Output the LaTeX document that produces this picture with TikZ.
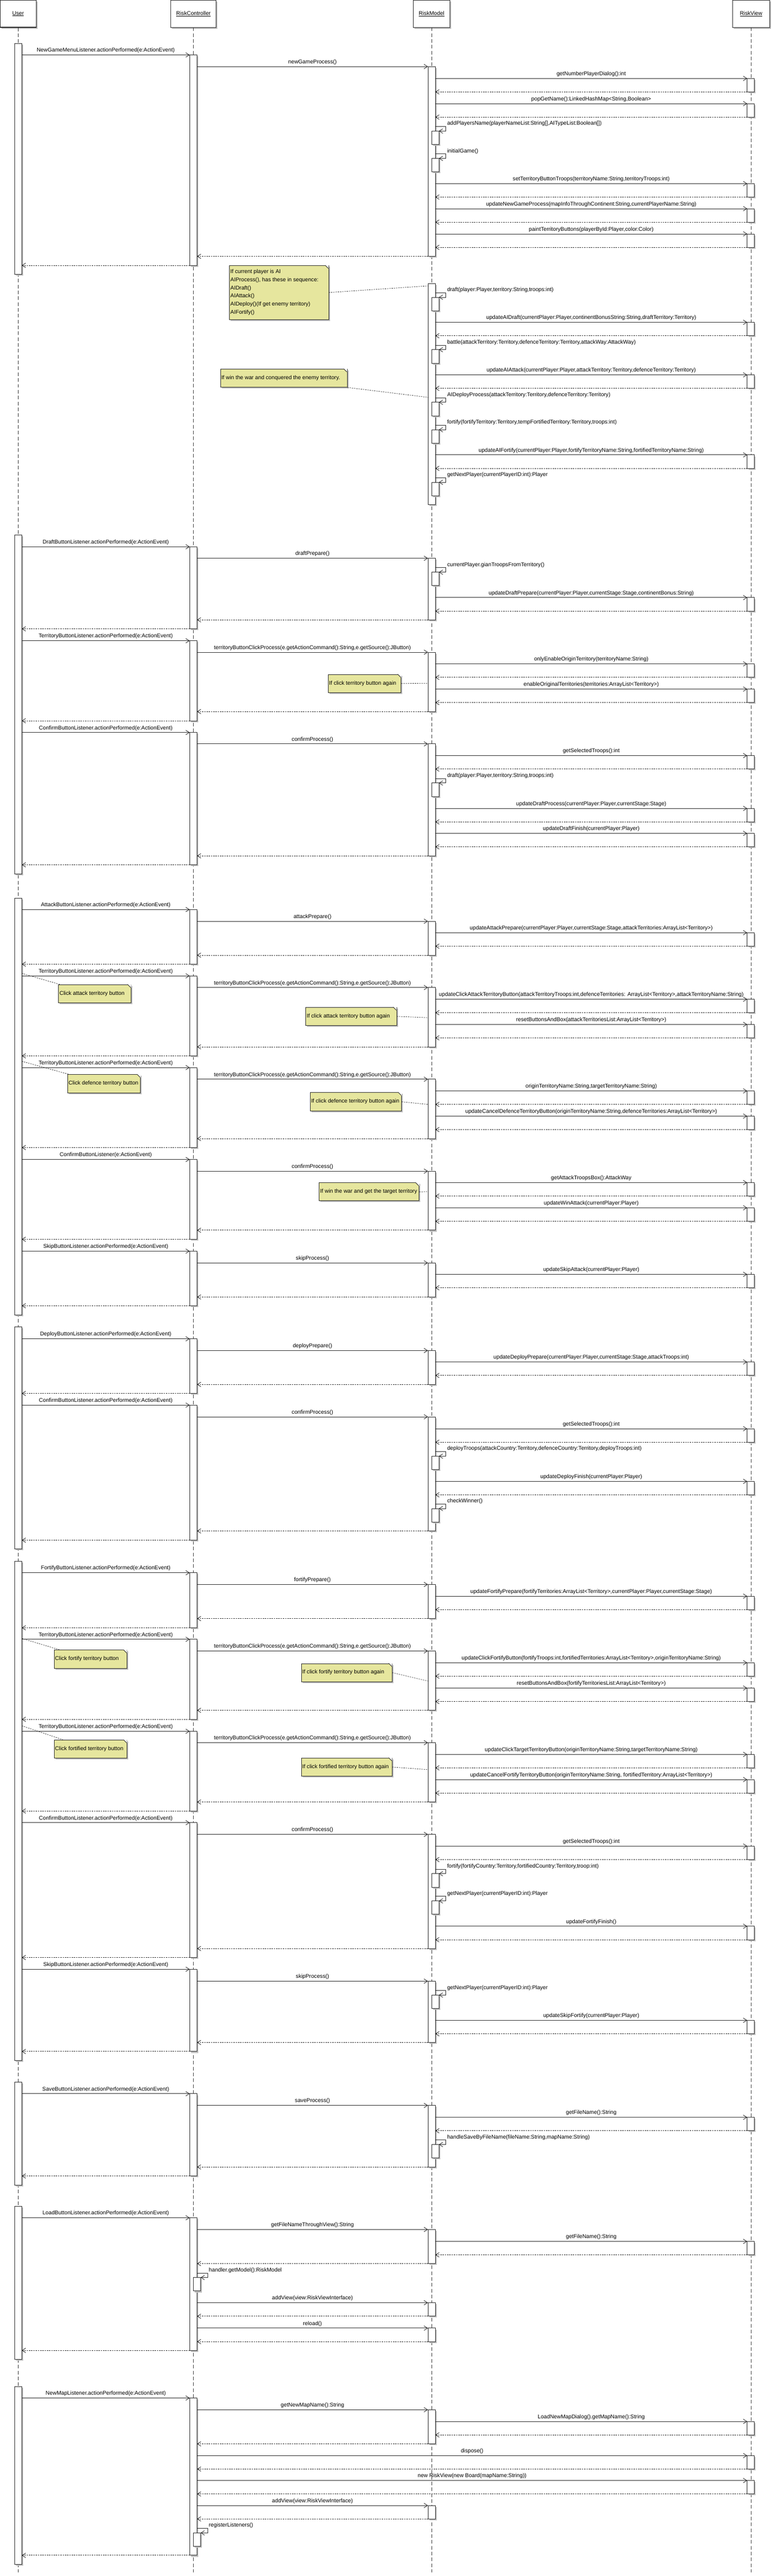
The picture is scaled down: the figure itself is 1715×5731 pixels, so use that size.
\documentclass[tikz,border=0pt]{standalone}
\usepackage{fontspec}
\setmainfont{Liberation Sans}
\usetikzlibrary{arrows.meta,shadows,calc}
\definecolor{memoyellow}{RGB}{230,230,158}
\newcounter{msgno}
\newcommand{\XU}{32.3}
\newcommand{\XC}{422.3}
\newcommand{\XM}{952.5}
\newcommand{\XV}{1663}

\tikzset{
  bar/.style={draw=black!85, fill=white, line width=1pt},
  barshade/.style={fill=black!25},
  call/.style={draw=black!85, line width=1pt, -{Straight Barb[length=8pt,width=10pt]}},
  reply/.style={call, dash pattern=on 3pt off 2pt},
  lbl/.style={inner sep=0pt, anchor=base},
  lifeline/.style={draw=black!80, line width=0.8pt, dash pattern=on 8pt off 5pt},
  head/.style={draw=black!85, fill=white, line width=1pt, minimum height=60.7pt, inner sep=0pt,
    drop shadow={shadow xshift=3pt, shadow yshift=-3pt, fill=black!25, opacity=1}},
  memo/.style={draw=black!85, fill=memoyellow, line width=1pt, inner sep=0pt, anchor=north west,
    drop shadow={shadow xshift=3pt, shadow yshift=-3pt, fill=black!25, opacity=1}},
  memotext/.style={anchor=west, inner sep=0pt, align=left, font=\fontsize{12.2}{18}\selectfont},
  memolink/.style={draw=black!85, line width=0.8pt, dash pattern=on 3pt off 2pt},
}

% activation bar: left x, top y, bottom y
\newcommand{\actbox}[3]{%
  \fill[barshade] (#1+3,#2+3) rectangle (#1+19,#3+3);
  \draw[bar] (#1,#2) rectangle (#1+16,#3);}
% message: from x, to x, y, label
\newcommand{\callmsg}[4]{%
  \draw[call] (#1,#3) -- (#2,#3);
  \stepcounter{msgno}%
  \node[lbl] (m\themsgno) at ({(#1+#2)/2},#3-6.6) {#4};}
\newcommand{\retmsg}[3]{\draw[reply] (#1,#3) -- (#2,#3);}
\newcommand{\ucall}[2]{\callmsg{\XU+16}{\XC}{#1}{#2}}
\newcommand{\uret}[1]{\retmsg{\XC}{\XU+16}{#1}}
\newcommand{\mcall}[2]{\callmsg{\XC+16}{\XM}{#1}{#2}}
\newcommand{\mret}[1]{\retmsg{\XM}{\XC+16}{#1}}
\newcommand{\vcall}[2]{\actbox{\XV}{#1}{#1+30}\callmsg{\XM+16}{\XV}{#1}{#2}\retmsg{\XV}{\XM+16}{#1+30}}
\newcommand{\cvcall}[2]{\actbox{\XV}{#1}{#1+30}\callmsg{\XC+16}{\XV}{#1}{#2}\retmsg{\XV}{\XC+16}{#1+30}}
% self call: bar left x, y, label
\newcommand{\selfcall}[3]{%
  \actbox{#1+8}{#2+10}{#2+40}
  \draw[call] (#1+16,#2) -- (#1+40,#2) -- (#1+40,#2+10) -- (#1+24,#2+10);
  \stepcounter{msgno}%
  \node[lbl, anchor=base west] (m\themsgno) at (#1+42.5,#2-3) {#3};}
% note: name, x1, y1, x2, y2, text
\newcommand{\memo}[6]{%
  \node[memo, minimum width={#4pt-#2pt}, minimum height={#5pt-#3pt}] (#1) at (#2,#3) {};
  \fill[white] (#4-7.5,#3-0.8) -- (#4+0.8,#3-0.8) -- (#4+0.8,#3+7.5) -- cycle;
  \draw[line width=1pt, draw=black!85] (#4-7,#3) -- (#4,#3+7);
  \node[memotext] (#1t) at (#2+2.4,{(#3+#5)/2}) {#6};}

\begin{document}
\begin{tikzpicture}[x=1pt, y=-1pt, every node/.style={font=\fontsize{12.2}{14.6}\selectfont}]
  \useasboundingbox (0,0) rectangle (1715,5731);

  % participants
  \node[head, minimum width=80.7pt, line width=1.6pt] (user) at (40.35,30.35) {\underline{User}};
  \node[head, minimum width=100.4pt] (ctrl) at (430.5,30.35) {\underline{RiskController}};
  \node[head, minimum width=81pt] (model) at (960.5,30.35) {\underline{RiskModel}};
  \node[head, minimum width=83pt] (view) at (1671.5,30.35) {\underline{RiskView}};

  \coordinate (bottom) at (0,5723);
  \foreach \p in {user,ctrl,model,view}
    \draw[lifeline] (\p) -- (\p |- bottom);

  % new game
  \actbox{\XU}{96.3}{610}
  \actbox{\XC}{122.3}{590.3}
  \ucall{122.3}{NewGameMenuListener.actionPerformed(e:ActionEvent)}
  \actbox{\XM}{148}{570.2}
  \mcall{148}{newGameProcess()}
  \vcall{174.4}{getNumberPlayerDialog():int}
  \vcall{230.5}{popGetName():LinkedHashMap<String,Boolean>}
  \selfcall{\XM}{281.5}{addPlayersName(playerNameList:String[],AITypeList:Boolean[])}
  \selfcall{\XM}{342.4}{initialGame()}
  \vcall{408.4}{setTerritoryButtonTroops(territoryName:String,territoryTroops:int)}
  \vcall{464.2}{updateNewGameProcess(mapInfoThroughContinent:String,currentPlayerName:String)}
  \vcall{520.3}{paintTerritoryButtons(playerById:Player,color:Color)}
  \mret{570.2}
  \uret{590.3}

  % AI turn
  \actbox{\XM}{630.7}{1123}
  \selfcall{\XM}{651.3}{draft(player:Player,territory:String,troops:int)}
  \vcall{717}{updateAIDraft(currentPlayer:Player,continentBonusString:String,draftTerritory:Territory)}
  \selfcall{\XM}{768}{battle(attackTerritory:Territory,defenceTerritory:Territory,attackWay:AttackWay)}
  \vcall{834}{updateAIAttack(currentPlayer:Player,attackTerritory:Territory,defenceTerritory:Territory)}
  \selfcall{\XM}{885}{AIDeployProcess(attackTerritory:Territory,defenceTerritory:Territory)}
  \selfcall{\XM}{946}{fortify(fortifyTerritory:Territory,tempFortifiedTerritory:Territory,troops:int)}
  \vcall{1012}{updateAIFortify(currentPlayer:Player,fortifyTerritoryName:String,fortifiedTerritoryName:String)}
  \selfcall{\XM}{1063}{getNextPlayer(currentPlayerID:int):Player}
  \memo{n1}{510.3}{590.3}{730.7}{710.3}{If current player is AI\\AIProcess(), has these in sequence:\\AIDraft()\\AIAttack()\\AIDeploy()(If get enemy territory)\\AIFortify()}
  \memo{n2}{490}{820.5}{772}{861}{If win the war and conquered the enemy territory.}

  % draft
  \actbox{\XU}{1190}{1944}
  \actbox{\XC}{1216.4}{1399}
  \ucall{1216.4}{DraftButtonListener.actionPerformed(e:ActionEvent)}
  \actbox{\XM}{1242}{1379}
  \mcall{1242}{draftPrepare()}
  \selfcall{\XM}{1263}{currentPlayer.gianTroopsFromTerritory()}
  \vcall{1329.5}{updateDraftPrepare(currentPlayer:Player,currentStage:Stage,continentBonus:String)}
  \mret{1379}
  \uret{1399}
  \actbox{\XC}{1425.5}{1603.5}
  \ucall{1425.5}{TerritoryButtonListener.actionPerformed(e:ActionEvent)}
  \actbox{\XM}{1451}{1583}
  \mcall{1451}{territoryButtonClickProcess(e.getActionCommand():String,e.getSource():JButton)}
  \vcall{1477}{onlyEnableOriginTerritory(territoryName:String)}
  \vcall{1533}{enableOriginalTerritories(territories:ArrayList<Territory>)}
  \mret{1583}
  \uret{1603.5}
  \memo{n3}{730}{1500}{892}{1540.6}{If click territory button again}
  \actbox{\XC}{1629.6}{1924}
  \ucall{1629.6}{ConfirmButtonListener.actionPerformed(e:ActionEvent)}
  \actbox{\XM}{1655}{1904}
  \mcall{1655}{confirmProcess()}
  \vcall{1681}{getSelectedTroops():int}
  \selfcall{\XM}{1732}{draft(player:Player,territory:String,troops:int)}
  \vcall{1798.5}{updateDraftProcess(currentPlayer:Player,currentStage:Stage)}
  \vcall{1854}{updateDraftFinish(currentPlayer:Player)}
  \mret{1904}
  \uret{1924}

  % attack
  \actbox{\XU}{1998}{2925}
  \actbox{\XC}{2023.5}{2145}
  \ucall{2023.5}{AttackButtonListener.actionPerformed(e:ActionEvent)}
  \actbox{\XM}{2049.5}{2125}
  \mcall{2049.5}{attackPrepare()}
  \vcall{2075}{updateAttackPrepare(currentPlayer:Player,currentStage:Stage,attackTerritories:ArrayList<Territory>)}
  \mret{2125}
  \uret{2145}
  \actbox{\XC}{2171}{2349}
  \ucall{2171}{TerritoryButtonListener.actionPerformed(e:ActionEvent)}
  \actbox{\XM}{2197}{2329}
  \mcall{2197}{territoryButtonClickProcess(e.getActionCommand():String,e.getSource():JButton)}
  \vcall{2223}{updateClickAttackTerritoryButton(attackTerritoryTroops:int,defenceTerritories: ArrayList<Territory>,attackTerritoryName:String)}
  \vcall{2279}{resetButtonsAndBox(attackTerritoriesList:ArrayList<Territory>)}
  \mret{2329}
  \uret{2349}
  \memo{n4}{130}{2190}{291}{2230.6}{Click attack territory button}
  \memo{n5}{680}{2240.5}{882}{2281}{If click attack territory button again}
  \actbox{\XC}{2375}{2553}
  \ucall{2375}{TerritoryButtonListener.actionPerformed(e:ActionEvent)}
  \actbox{\XM}{2401}{2533}
  \mcall{2401}{territoryButtonClickProcess(e.getActionCommand():String,e.getSource():JButton)}
  \vcall{2427}{originTerritoryName:String,targetTerritoryName:String)}
  \vcall{2483}{updateCancelDefenceTerritoryButton(originTerritoryName:String,defenceTerritories:ArrayList<Territory>)}
  \mret{2533}
  \uret{2553}
  \memo{n6}{150}{2390}{312}{2431}{Click defence territory button}
  \memo{n7}{690}{2430}{893}{2471.5}{If click defence territory button again}
  \actbox{\XC}{2579.5}{2757}
  \ucall{2579.5}{ConfirmButtonListener(e:ActionEvent)}
  \actbox{\XM}{2605.5}{2737}
  \mcall{2605.5}{confirmProcess()}
  \vcall{2631}{getAttackTroopsBox():AttackWay}
  \vcall{2687}{updateWinAttack(currentPlayer:Player)}
  \mret{2737}
  \uret{2757}
  \memo{n8}{710}{2631}{932}{2671}{If win the war and get the target territory}
  \actbox{\XC}{2783.5}{2905}
  \ucall{2783.5}{SkipButtonListener.actionPerformed(e:ActionEvent)}
  \actbox{\XM}{2809.6}{2885.5}
  \mcall{2809.6}{skipProcess()}
  \vcall{2835}{updateSkipAttack(currentPlayer:Player)}
  \mret{2885.5}
  \uret{2905}

  % deploy
  \actbox{\XU}{2952}{3446}
  \actbox{\XC}{2978.5}{3100}
  \ucall{2978.5}{DeployButtonListener.actionPerformed(e:ActionEvent)}
  \actbox{\XM}{3004.6}{3080}
  \mcall{3004.6}{deployPrepare()}
  \vcall{3030}{updateDeployPrepare(currentPlayer:Player,currentStage:Stage,attackTroops:int)}
  \mret{3080}
  \uret{3100}
  \actbox{\XC}{3126}{3426.5}
  \ucall{3126}{ConfirmButtonListener.actionPerformed(e:ActionEvent)}
  \actbox{\XM}{3152}{3406}
  \mcall{3152}{confirmProcess()}
  \vcall{3178.5}{getSelectedTroops():int}
  \selfcall{\XM}{3229.5}{deployTroops(attackCountry:Territory,defenceCountry:Territory,deployTroops:int)}
  \vcall{3295.6}{updateDeployFinish(currentPlayer:Player)}
  \selfcall{\XM}{3346}{checkWinner()}
  \mret{3406}
  \uret{3426.5}

  % fortify
  \actbox{\XU}{3473.5}{4584}
  \actbox{\XC}{3499}{3621.5}
  \ucall{3499}{FortifyButtonListener.actionPerformed(e:ActionEvent)}
  \actbox{\XM}{3525}{3601}
  \mcall{3525}{fortifyPrepare()}
  \vcall{3551}{updateFortifyPrepare(fortifyTerritories:ArrayList<Territory>,currentPlayer:Player,currentStage:Stage)}
  \mret{3601}
  \uret{3621.5}
  \actbox{\XC}{3647}{3825}
  \ucall{3647}{TerritoryButtonListener.actionPerformed(e:ActionEvent)}
  \actbox{\XM}{3673}{3805}
  \mcall{3673}{territoryButtonClickProcess(e.getActionCommand():String,e.getSource():JButton)}
  \vcall{3699}{updateClickFortifyButton(fortifyTroops:int,fortifiedTerritories:ArrayList<Territory>,originTerritoryName:String)}
  \vcall{3755.5}{resetButtonsAndBox(fortifyTerritoriesList:ArrayList<Territory>)}
  \mret{3805}
  \uret{3825}
  \memo{n9}{120}{3670.5}{282}{3711}{Click fortify territory button}
  \memo{n10}{670}{3700.5}{872}{3741}{If click fortify territory button again}
  \actbox{\XC}{3851.6}{4029}
  \ucall{3851.6}{TerritoryButtonListener.actionPerformed(e:ActionEvent)}
  \actbox{\XM}{3877}{4009}
  \mcall{3877}{territoryButtonClickProcess(e.getActionCommand():String,e.getSource():JButton)}
  \vcall{3903}{updateClickTargetTerritoryButton(originTerritoryName:String,targetTerritoryName:String)}
  \vcall{3959}{updateCancelFortifyTerritoryButton(originTerritoryName:String, fortifiedTerritory:ArrayList<Territory>)}
  \mret{4009}
  \uret{4029}
  \memo{n11}{120}{3870.5}{282}{3911}{Click fortified territory button}
  \memo{n12}{670}{3910.5}{872}{3951}{If click fortified territory button again}
  \actbox{\XC}{4055}{4355}
  \ucall{4055}{ConfirmButtonListener.actionPerformed(e:ActionEvent)}
  \actbox{\XM}{4081}{4335}
  \mcall{4081}{confirmProcess()}
  \vcall{4107}{getSelectedTroops():int}
  \selfcall{\XM}{4158.5}{fortify(fortifyCountry:Territory,fortifiedCountry:Territory,troop:int)}
  \selfcall{\XM}{4219}{getNextPlayer(currentPlayerID:int):Player}
  \vcall{4285.4}{updateFortifyFinish()}
  \mret{4335}
  \uret{4355}
  \actbox{\XC}{4381}{4564}
  \ucall{4381}{SkipButtonListener.actionPerformed(e:ActionEvent)}
  \actbox{\XM}{4407.6}{4544}
  \mcall{4407.6}{skipProcess()}
  \selfcall{\XM}{4428.5}{getNextPlayer(currentPlayerID:int):Player}
  \vcall{4494.6}{updateSkipFortify(currentPlayer:Player)}
  \mret{4544}
  \uret{4564}

  % save
  \actbox{\XU}{4632.6}{4861}
  \actbox{\XC}{4658}{4841}
  \ucall{4658}{SaveButtonListener.actionPerformed(e:ActionEvent)}
  \actbox{\XM}{4684}{4821}
  \mcall{4684}{saveProcess()}
  \vcall{4710.4}{getFileName():String}
  \selfcall{\XM}{4761}{handleSaveByFileName(fileName:String,mapName:String)}
  \mret{4821}
  \uret{4841}

  % load
  \actbox{\XU}{4908}{5249}
  \actbox{\XC}{4934}{5229}
  \ucall{4934}{LoadButtonListener.actionPerformed(e:ActionEvent)}
  \actbox{\XM}{4960}{5036}
  \mcall{4960}{getFileNameThroughView():String}
  \vcall{4986.5}{getFileName():String}
  \mret{5036}
  \selfcall{\XC}{5057}{handler.getModel():RiskModel}
  \actbox{\XM}{5123}{5153}
  \mcall{5123}{addView(view:RiskViewInterface)}
  \mret{5153}
  \actbox{\XM}{5179.5}{5209.5}
  \mcall{5179.5}{reload()}
  \mret{5209.5}
  \uret{5229}

  % new map
  \actbox{\XU}{5309.5}{5705}
  \actbox{\XC}{5335}{5685}
  \ucall{5335}{NewMapListener.actionPerformed(e:ActionEvent)}
  \actbox{\XM}{5361}{5437}
  \mcall{5361}{getNewMapName():String}
  \vcall{5387}{LoadNewMapDialog().getMapName():String}
  \mret{5437}
  \cvcall{5463}{dispose()}
  \cvcall{5518.5}{new RiskView(new Board(mapName:String))}
  \actbox{\XM}{5574}{5604}
  \mcall{5574}{addView(view:RiskViewInterface)}
  \mret{5604}
  \selfcall{\XC}{5625}{registerListeners()}
  \uret{5685}

  % note links
  \coordinate (a1) at (\XM,636);
  \coordinate (a2) at (\XM,884);
  \coordinate (a3) at (\XM,1520);
  \coordinate (a5) at (\XM,2264);
  \coordinate (a7) at (\XM,2457);
  \coordinate (a8) at (\XM,2651);
  \coordinate (a10) at (\XM,3740);
  \coordinate (a12) at (\XM,3937);
  \coordinate (u4) at (\XU+16,2165.4);
  \coordinate (u6) at (\XU+16,2361);
  \coordinate (u9) at (\XU+16,3645);
  \coordinate (u11) at (\XU+16,3839.3);
  \draw[memolink] (n1.east) -- (a1);
  \draw[memolink] (n2.south east) -- (a2);
  \draw[memolink] (n3.east) -- (a3);
  \draw[memolink] (n5.east) -- (a5);
  \draw[memolink] (n7.east) -- (a7);
  \draw[memolink] (n8.east) -- (a8);
  \draw[memolink] (n10.east) -- (a10);
  \draw[memolink] (n12.east) -- (a12);
  \draw[memolink] (u4) -- ($(n4.north west)+(3,0)$);
  \draw[memolink] (u6) -- ($(n6.north west)+(3,0)$);
  \draw[memolink] (u9) -- ($(n9.north west)+(13,0)$);
  \draw[memolink] (u11) -- ($(n11.north west)+(20,0)$);
\end{tikzpicture}
\end{document}
